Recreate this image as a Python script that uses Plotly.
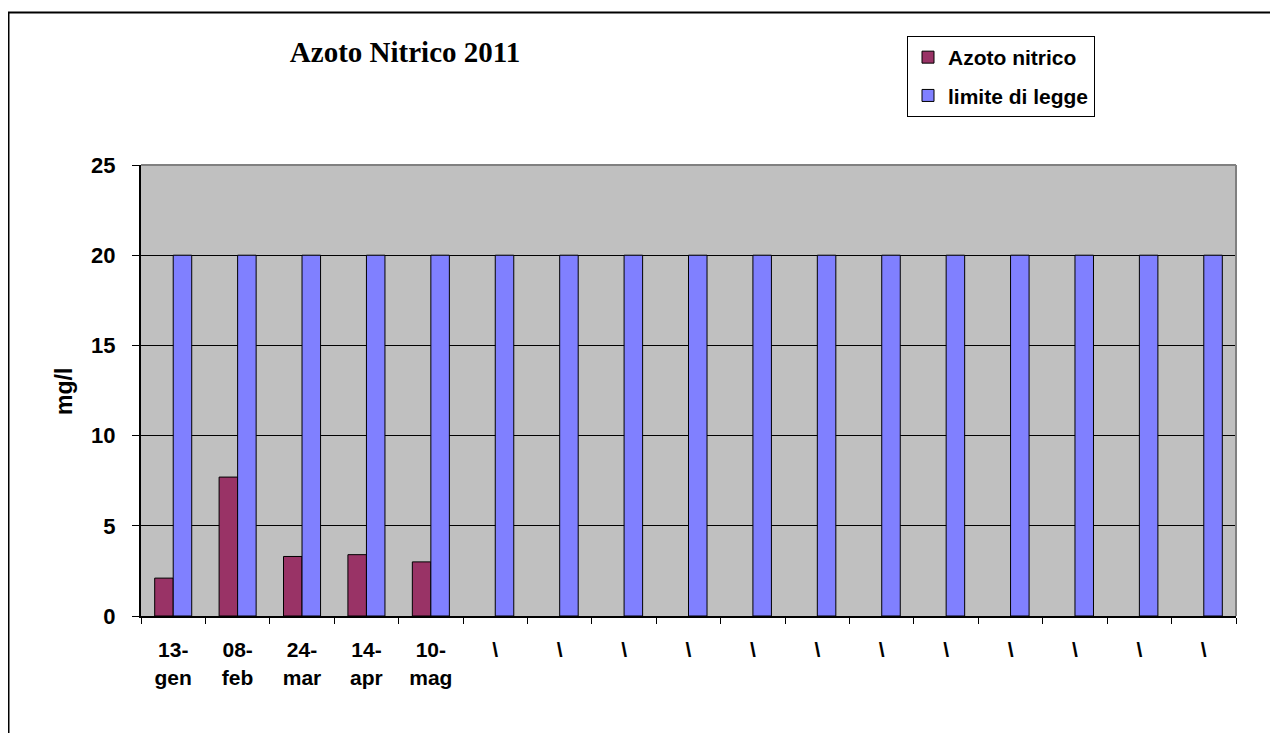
import plotly.graph_objects as go

tick_labels = ["13-<br>gen", "08-<br>feb", "24-<br>mar", "14-<br>apr", "10-<br>mag"] + ["\\"] * 12
# unique category keys (zero-width spaces keep repeated "\" labels distinct)
categories = [lab + "\u200b" * i for i, lab in enumerate(tick_labels)]
azoto_nitrico = [2.1, 7.7, 3.3, 3.4, 3.0] + [None] * 12
limite_di_legge = [20] * 17
y_ticks = [0, 5, 10, 15, 20, 25]

# page offset caused by the default body margin
OFF = 8
W, H = 1278 - OFF, 733 - OFF
L, R, T, B = 141 - OFF, 1236 - OFF, 165 - OFF, 616 - OFF

def px(x):
    return (x - OFF - L) / (R - L)

def py(y):
    return (B - (y - OFF)) / (B - T)

SANS = "Liberation Sans, Arial, sans-serif"

fig = go.Figure()
fig.add_trace(go.Bar(
    x=categories, y=azoto_nitrico, name="Azoto nitrico", legendgroup="a",
    marker=dict(color="#993366", line=dict(color="black", width=1)),
))
fig.add_trace(go.Bar(
    x=categories, y=limite_di_legge, name="limite di legge", legendgroup="b",
    marker=dict(color="#8080FF", line=dict(color="black", width=1)),
))

fig.update_layout(
    width=W, height=H,
    margin=dict(l=L, r=W - R, t=T, b=H - B),
    paper_bgcolor="white",
    plot_bgcolor="#C0C0C0",
    barmode="group",
    bargap=0.425,
    bargroupgap=0,
    font=dict(family=SANS, color="black", weight="bold"),
    title=dict(
        text="Azoto Nitrico 2011",
        font=dict(family="Liberation Serif, Times New Roman, serif", size=29,
                  color="black", weight="bold"),
        xref="container", yref="container",
        x=(405 - OFF) / W, y=1 - (52 - OFF) / H, xanchor="center", yanchor="middle",
    ),
    legend=dict(
        x=px(907), y=py(36), xanchor="left", yanchor="top",
        bgcolor="white", bordercolor="black", borderwidth=1,
        font=dict(size=21, family=SANS, color="black", weight="bold"),
        tracegroupgap=8,
        traceorder="grouped",
        itemwidth=30,
    ),
    showlegend=True,
    xaxis=dict(
        type="category",
        showline=True, linecolor="black", linewidth=2,
        ticks="outside", ticklen=6, tickcolor="black", tickwidth=1,
        tickson="boundaries",
        tickangle=0,
        showgrid=False,
        tickfont=dict(size=21, family=SANS, color="black", weight="bold"),
        ticklabelstandoff=14,
    ),
    yaxis=dict(
        range=[0, 25],
        tickvals=y_ticks,
        showline=True, linecolor="black", linewidth=2,
        ticks="outside", ticklen=7, tickcolor="black", tickwidth=1,
        showgrid=True, gridcolor="black", gridwidth=1,
        zeroline=False,
        tickfont=dict(size=22, family=SANS, color="black", weight="bold"),
        ticklabelstandoff=12,
    ),
    annotations=[dict(
        text="mg/l", textangle=-90,
        xref="paper", yref="paper", x=px(64), y=py(392),
        xanchor="center", yanchor="middle", showarrow=False,
        font=dict(size=23, family=SANS, color="black", weight="bold"),
    )],
)

# grey plot-area border on top and right
fig.add_shape(type="line", xref="paper", yref="paper", x0=0, x1=1, y0=1, y1=1,
              line=dict(color="#808080", width=2), layer="above")
fig.add_shape(type="line", xref="paper", yref="paper", x0=1, x1=1, y0=0, y1=1,
              line=dict(color="#808080", width=2), layer="above")
# outer chart border (left and top visible)
fig.add_shape(type="rect", xref="paper", yref="paper",
              x0=px(8.5), x1=px(1300), y0=py(12.5), y1=py(760),
              line=dict(color="black", width=2), fillcolor="rgba(0,0,0,0)", layer="above")

fig.write_html("out.html")
